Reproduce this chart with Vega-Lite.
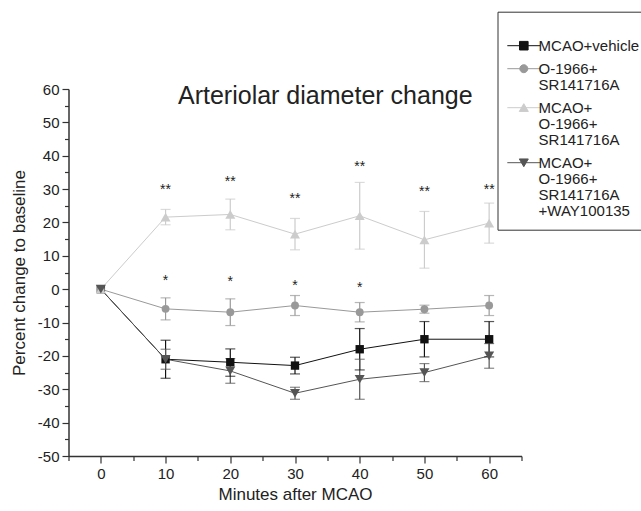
{
  "$schema": "https://vega.github.io/schema/vega-lite/v6.json",
  "width": 453,
  "height": 367,
  "autosize": {"type": "none"},
  "padding": {"left": 68.5, "top": 89, "right": 119.5, "bottom": 55},
  "config": {
    "view": {"stroke": null},
    "font": "Liberation Sans",
    "style": {"guide-label": {"lineHeight": 16}},
    "axis": {
      "grid": false,
      "domainColor": "#333333",
      "domainWidth": 1.5,
      "tickColor": "#333333",
      "tickWidth": 1.2,
      "labelFont": "Liberation Sans",
      "labelFontSize": 15,
      "labelColor": "#222222",
      "titleFont": "Liberation Sans",
      "titleFontSize": 17,
      "titleFontWeight": "normal",
      "titleColor": "#222222"
    },
    "legend": {
      "orient": "none",
      "legendX": 429,
      "legendY": -77.3,
      "titleFontSize": 6,
      "titlePadding": 4,
      "padding": 10,
      "strokeColor": "#333333",
      "fillColor": "#ffffff",
      "labelFont": "Liberation Sans",
      "labelFontSize": 15,
      "labelColor": "#222222",
      "labelLimit": 300,
      "labelOffset": 7.3,
      "labelBaseline": "top",
      "rowPadding": -6,
      "symbolSize": 100,
      "symbolOffset": 8.8,
      "symbolOpacity": 1,
      "symbolStrokeWidth": 1
    }
  },
  "title": {
    "text": "Arteriolar diameter change",
    "anchor": "start",
    "frame": "group",
    "orient": "top",
    "offset": 0,
    "dx": 109.5,
    "dy": 118,
    "baseline": "alphabetic",
    "font": "Liberation Sans",
    "fontSize": 25,
    "fontWeight": "normal",
    "color": "#222222"
  },
  "datasets": {
    "series": [
      {"g": "MCAO+vehicle", "t": 0, "v": 0},
      {"g": "MCAO+vehicle", "t": 10, "v": -21.0, "lo": -26.7, "hi": -15.3},
      {"g": "MCAO+vehicle", "t": 20, "v": -21.9, "lo": -26.1, "hi": -17.9},
      {"g": "MCAO+vehicle", "t": 30, "v": -22.9, "lo": -25.4, "hi": -20.4},
      {"g": "MCAO+vehicle", "t": 40, "v": -18.0, "lo": -24.2, "hi": -11.8},
      {"g": "MCAO+vehicle", "t": 50, "v": -15.0, "lo": -20.3, "hi": -9.7},
      {"g": "MCAO+vehicle", "t": 60, "v": -15.0, "lo": -20.3, "hi": -9.7},
      {"g": "O-1966+SR141716A", "t": 0, "v": 0},
      {"g": "O-1966+SR141716A", "t": 10, "v": -5.9, "lo": -9.2, "hi": -2.6},
      {"g": "O-1966+SR141716A", "t": 20, "v": -6.9, "lo": -10.9, "hi": -2.9},
      {"g": "O-1966+SR141716A", "t": 30, "v": -4.9, "lo": -7.9, "hi": -1.9},
      {"g": "O-1966+SR141716A", "t": 40, "v": -6.9, "lo": -9.8, "hi": -4.0},
      {"g": "O-1966+SR141716A", "t": 50, "v": -6.0, "lo": -7.2, "hi": -4.8},
      {"g": "O-1966+SR141716A", "t": 60, "v": -4.9, "lo": -7.9, "hi": -1.9},
      {"g": "MCAO+O-1966+SR141716A", "t": 0, "v": 0},
      {"g": "MCAO+O-1966+SR141716A", "t": 10, "v": 21.6, "lo": 19.3, "hi": 23.9},
      {"g": "MCAO+O-1966+SR141716A", "t": 20, "v": 22.4, "lo": 17.8, "hi": 27.0},
      {"g": "MCAO+O-1966+SR141716A", "t": 30, "v": 16.5, "lo": 11.8, "hi": 21.2},
      {"g": "MCAO+O-1966+SR141716A", "t": 40, "v": 22.0, "lo": 12.0, "hi": 32.0},
      {"g": "MCAO+O-1966+SR141716A", "t": 50, "v": 14.8, "lo": 6.3, "hi": 23.3},
      {"g": "MCAO+O-1966+SR141716A", "t": 60, "v": 19.8, "lo": 13.8, "hi": 25.8},
      {"g": "MCAO+O-1966+SR141716A+WAY100135", "t": 0, "v": 0},
      {"g": "MCAO+O-1966+SR141716A+WAY100135", "t": 10, "v": -21.0, "lo": -24.0, "hi": -18.0},
      {"g": "MCAO+O-1966+SR141716A+WAY100135", "t": 20, "v": -24.5, "lo": -28.2, "hi": -20.8},
      {"g": "MCAO+O-1966+SR141716A+WAY100135", "t": 30, "v": -31.2, "lo": -33.0, "hi": -29.4},
      {"g": "MCAO+O-1966+SR141716A+WAY100135", "t": 40, "v": -27.0, "lo": -33.0, "hi": -21.0},
      {"g": "MCAO+O-1966+SR141716A+WAY100135", "t": 50, "v": -25.0, "lo": -27.7, "hi": -22.3},
      {"g": "MCAO+O-1966+SR141716A+WAY100135", "t": 60, "v": -20.0, "lo": -23.7, "hi": -16.3}
    ],
    "stars": [
      {"t": 10, "y": 30.9, "s": "**"},
      {"t": 20, "y": 33.2, "s": "**"},
      {"t": 30, "y": 28.2, "s": "**"},
      {"t": 40, "y": 37.9, "s": "**"},
      {"t": 50, "y": 30.2, "s": "**"},
      {"t": 60, "y": 30.9, "s": "**"},
      {"t": 10, "y": 3.6, "s": "*"},
      {"t": 20, "y": 3.3, "s": "*"},
      {"t": 30, "y": 2.3, "s": "*"},
      {"t": 40, "y": 1.5, "s": "*"}
    ]
  },
  "layer": [
    {
      "data": {"name": "series"},
      "encoding": {
        "x": {
          "field": "t", "type": "quantitative",
          "scale": {"domain": [-5, 65], "nice": false, "zero": false},
          "axis": {
            "orient": "bottom",
            "values": [0, 10, 20, 30, 40, 50, 60],
            "tickSize": 7,
            "labelPadding": 3,
            "title": "Minutes after MCAO",
            "titleY": 38,
            "titleBaseline": "middle"
          }
        },
        "y": {
          "field": "v", "type": "quantitative",
          "scale": {"domain": [-50, 60], "nice": false, "zero": false},
          "axis": {
            "orient": "left",
            "values": [-50, -40, -30, -20, -10, 0, 10, 20, 30, 40, 50, 60],
            "labelExpr": "'' + datum.value",
            "tickSize": 6.5,
            "labelPadding": 3,
            "title": "Percent change to baseline",
            "titleX": -49.5,
            "titleBaseline": "middle"
          }
        },
        "color": {
          "field": "g", "type": "nominal",
          "scale": {"domain": ["MCAO+vehicle", "O-1966+SR141716A", "MCAO+O-1966+SR141716A", "MCAO+O-1966+SR141716A+WAY100135"], "range": ["#111111", "#999999", "#cccccc", "#555555"]},
          "legend": {"title": " ", "labelExpr": "datum.value == 'MCAO+vehicle' ? 'MCAO+vehicle' : datum.value == 'O-1966+SR141716A' ? ['O-1966+', 'SR141716A'] : datum.value == 'MCAO+O-1966+SR141716A' ? ['MCAO+', 'O-1966+', 'SR141716A'] : ['MCAO+', 'O-1966+', 'SR141716A', '+WAY100135']"}
        }
      },
      "layer": [
        {"mark": {"type": "line", "strokeWidth": 1}},
        {
          "transform": [{"filter": "isValid(datum.lo)"}],
          "mark": {"type": "rule", "strokeWidth": 1.2},
          "encoding": {"y": {"field": "lo", "type": "quantitative"}, "y2": {"field": "hi"}}
        },
        {
          "transform": [{"filter": "isValid(datum.lo)"}],
          "mark": {"type": "tick", "orient": "horizontal", "size": 10, "thickness": 1.2},
          "encoding": {"y": {"field": "lo", "type": "quantitative"}}
        },
        {
          "transform": [{"filter": "isValid(datum.hi)"}],
          "mark": {"type": "tick", "orient": "horizontal", "size": 10, "thickness": 1.2},
          "encoding": {"y": {"field": "hi", "type": "quantitative"}}
        },
        {
          "transform": [{"filter": "datum.g == 'MCAO+vehicle'"}],
          "mark": {"type": "point", "shape": "square", "filled": true, "opacity": 1, "size": 70}
        },
        {
          "transform": [{"filter": "datum.g == 'O-1966+SR141716A'"}],
          "mark": {"type": "point", "shape": "circle", "filled": true, "opacity": 1, "size": 62}
        },
        {
          "transform": [{"filter": "datum.g == 'MCAO+O-1966+SR141716A'"}],
          "mark": {"type": "point", "shape": "triangle-up", "filled": true, "opacity": 1, "size": 100}
        },
        {
          "transform": [{"filter": "datum.g == 'MCAO+O-1966+SR141716A+WAY100135'"}],
          "mark": {"type": "point", "shape": "triangle-down", "filled": true, "opacity": 1, "size": 100}
        },
        {
          "mark": {"type": "point", "opacity": 0, "filled": true, "strokeWidth": 1},
          "encoding": {
            "shape": {
              "field": "g", "type": "nominal",
              "scale": {
                "domain": ["MCAO+vehicle", "O-1966+SR141716A", "MCAO+O-1966+SR141716A", "MCAO+O-1966+SR141716A+WAY100135"],
                "range": ["M-3.3,1.3H3.3M-0.86,0.44H0.86V2.16H-0.86Z", "M-3.3,1.3H3.3M0.8,1.3A0.8,0.8 0 1,1 -0.8,1.3A0.8,0.8 0 1,1 0.8,1.3Z", "M-3.3,1.3H3.3M0,0.5L0.9,2.05L-0.9,2.05Z", "M-3.3,1.3H3.3M0,2.1L0.9,0.55L-0.9,0.55Z"]
              },
              "legend": {"title": " ", "labelExpr": "datum.value == 'MCAO+vehicle' ? 'MCAO+vehicle' : datum.value == 'O-1966+SR141716A' ? ['O-1966+', 'SR141716A'] : datum.value == 'MCAO+O-1966+SR141716A' ? ['MCAO+', 'O-1966+', 'SR141716A'] : ['MCAO+', 'O-1966+', 'SR141716A', '+WAY100135']"}
            }
          }
        }
      ]
    },
    {
      "data": {"name": "stars"},
      "mark": {"type": "text", "baseline": "alphabetic", "dy": 8, "fontSize": 14, "color": "#222222", "font": "Liberation Sans"},
      "encoding": {
        "x": {
          "field": "t", "type": "quantitative",
          "scale": {"domain": [-5, 65], "nice": false, "zero": false},
          "axis": {"orient": "bottom", "values": [-5, 5, 15, 25, 35, 45, 55, 65], "tickSize": 4.5, "labels": false, "domain": false, "title": null}
        },
        "y": {
          "field": "y", "type": "quantitative",
          "scale": {"domain": [-50, 60], "nice": false, "zero": false},
          "axis": {"orient": "left", "values": [-45, -35, -25, -15, -5, 5, 15, 25, 35, 45, 55], "tickSize": 4, "labels": false, "domain": false, "title": null}
        },
        "text": {"field": "s"}
      }
    }
  ],
  "resolve": {"axis": {"x": "independent", "y": "independent"}}
}
